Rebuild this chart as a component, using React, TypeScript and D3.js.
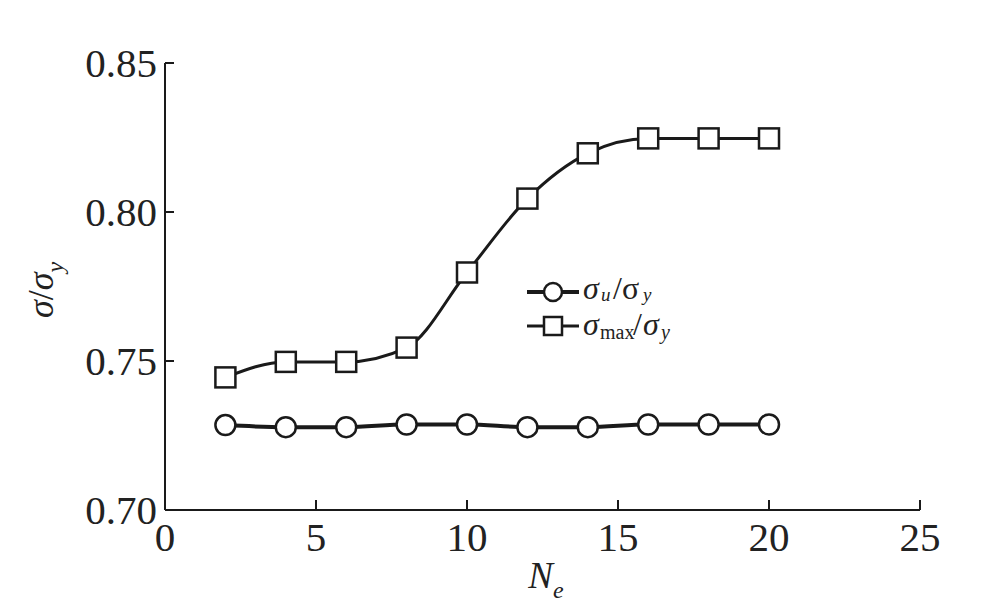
import React from "react";
import * as d3 from "d3";

const ne = [2, 4, 6, 8, 10, 12, 14, 16, 18, 20];
const sigmaU = [0.7285, 0.7278, 0.7278, 0.7287, 0.7287, 0.7278, 0.7278, 0.7287, 0.7287, 0.7287];
const sigmaMax = [0.7445, 0.7497, 0.7497, 0.7545, 0.7797, 0.8045, 0.8197, 0.8247, 0.8247, 0.8247];
const xTicks = [0, 5, 10, 15, 20, 25];
const yTicks = [0.7, 0.75, 0.8, 0.85];

const W = 987, H = 615;
const font = "'Liberation Serif', 'Times New Roman', serif";

export default function App() {
  const x = d3.scaleLinear().domain([0, 25]).range([165, 920]);
  const y = d3.scaleLinear().domain([0.7, 0.85]).range([510, 63]);
  const line = d3.line<number>()
    .x((_, i) => x(ne[i]))
    .y((d) => y(d))
    .curve(d3.curveMonotoneX);
  const stroke = "#1a1a1a";
  return (
    <div style={{ position: "absolute", left: 0, top: 0 }}>
      <svg width={W} height={H} style={{ display: "block", background: "#fff" }} fontFamily={font}>
        {/* axes */}
        <line x1={x(0)} x2={x(0)} y1={y(0.85)} y2={y(0.7)} stroke={stroke} strokeWidth={2} />
        <line x1={x(0)} x2={x(25)} y1={y(0.7)} y2={y(0.7)} stroke={stroke} strokeWidth={2} />
        {yTicks.map((t) => (
          <g key={"y" + t}>
            <line x1={x(0)} x2={x(0) + 9} y1={y(t)} y2={y(t)} stroke={stroke} strokeWidth={2} />
            <text x={x(0) - 8} y={y(t) + 14} textAnchor="end" fontSize={41} fill="#222">
              {t.toFixed(2)}
            </text>
          </g>
        ))}
        {xTicks.map((t) => (
          <g key={"x" + t}>
            <line x1={x(t)} x2={x(t)} y1={y(0.7)} y2={y(0.7) - 10} stroke={stroke} strokeWidth={2} />
            <text x={x(t)} y={551} textAnchor="middle" fontSize={41} fill="#222">
              {t}
            </text>
          </g>
        ))}
        {/* axis labels */}
        <text x={546} y={588} textAnchor="middle" fontSize={37} fill="#222">
          <tspan fontStyle="italic">N</tspan>
          <tspan fontStyle="italic" fontSize={24} dy={10}>e</tspan>
        </text>
        <text transform={`translate(53, 290) rotate(-90)`} textAnchor="middle" fontSize={36} fill="#222">
          <tspan fontStyle="italic">σ</tspan>
          <tspan>/</tspan>
          <tspan fontStyle="italic">σ</tspan>
          <tspan fontStyle="italic" fontSize={24} dy={10}>y</tspan>
        </text>
        {/* series lines */}
        <path d={line(sigmaMax) || ""} fill="none" stroke={stroke} strokeWidth={3} />
        <path d={line(sigmaU) || ""} fill="none" stroke={stroke} strokeWidth={4} />
        {sigmaMax.map((v, i) => (
          <rect key={"s" + i} x={x(ne[i]) - 10} y={y(v) - 10} width={20} height={20}
            fill="#fff" stroke={stroke} strokeWidth={2.5} />
        ))}
        {sigmaU.map((v, i) => (
          <circle key={"c" + i} cx={x(ne[i])} cy={y(v)} r={10}
            fill="#fff" stroke={stroke} strokeWidth={2.5} />
        ))}
        {/* legend */}
        <g fill="#222">
          <line x1={527} x2={579} y1={292} y2={292} stroke={stroke} strokeWidth={4} />
          <circle cx={553} cy={292} r={9} fill="#fff" stroke={stroke} strokeWidth={2.5} />
          <text x={583} y={299} fontSize={32} fontStyle="italic">σ</text>
          <text x={601} y={301} fontSize={19} fontStyle="italic">u</text>
          <text x={613} y={299} fontSize={32}>/σ</text>
          <text x={643} y={301} fontSize={19} fontStyle="italic">y</text>

          <line x1={527} x2={579} y1={326} y2={326} stroke={stroke} strokeWidth={3} />
          <rect x={544} y={317} width={18} height={18} fill="#fff" stroke={stroke} strokeWidth={2.5} />
          <text x={583} y={335} fontSize={32} fontStyle="italic">σ</text>
          <text x={600} y={339} fontSize={20}>max</text>
          <text x={633} y={335} fontSize={32}>/</text>
          <text x={643} y={335} fontSize={32} fontStyle="italic">σ</text>
          <text x={661} y={339} fontSize={20} fontStyle="italic">y</text>
        </g>
      </svg>
    </div>
  );
}
